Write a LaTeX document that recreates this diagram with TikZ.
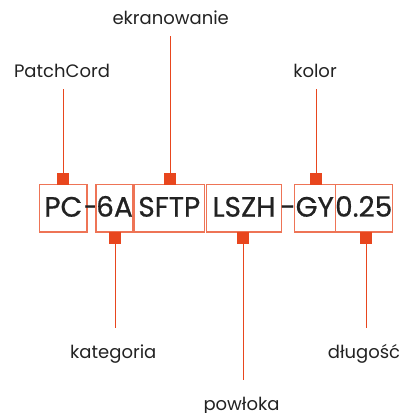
\documentclass[tikz,border=0pt]{standalone}
\usepackage{fontspec}
\setmainfont{Poppins}
\newfontfamily\codefont{Poppins}[FakeBold=0.7]
\definecolor{acc}{HTML}{E8461E}
\definecolor{ink}{HTML}{222222}
\begin{document}
\begin{tikzpicture}[x=1pt,y=-1pt,
  seg/.style={draw=acc!75!white, line width=1.1pt, minimum height=47.3pt, inner sep=0pt,
    text height=20pt, text depth=3.3pt, text=ink, font=\codefont\fontsize{28}{28}\selectfont},
  dashtxt/.style={inner sep=0pt, anchor=base, text=ink, font=\codefont\fontsize{28}{28}\selectfont},
  sq/.style={fill=acc, draw=none, minimum size=11.4pt, inner sep=0pt},
  labtop/.style={anchor=base, text=ink, font=\fontsize{18}{18}\selectfont, text depth=0pt, inner xsep=0pt, inner ysep=11.4pt},
  labbot/.style={anchor=base, text=ink, font=\fontsize{18}{18}\selectfont, text height=13pt, inner xsep=0pt, inner ysep=17.3pt},
  ln/.style={draw=acc, line width=0.9pt}]
\useasboundingbox (0,0) rectangle (401,413);
% code segments
\node[seg, minimum width=47.3pt] (bPC) at (63.3,208.3) {PC};
\node[dashtxt] (d1) at (91.5,216.7) {-};
\node[seg, minimum width=37pt] (b6A) at (114.5,208.3) {6A};
\node[seg, minimum width=70.7pt] (bSF) at (169.3,208.3) {SFTP};
\node[seg, minimum width=75.4pt] (bLS) at (244,208.3) {LSZH};
\node[dashtxt] (d2) at (288,216.7) {-};
\node[seg, minimum width=41pt] (bGY) at (314.8,208.3) {GY};
\node[seg, minimum width=54.7pt] (b025) at (363.7,208.3) {0.25};
% markers
\node[sq] (sPC) at (63,179) {};
\node[sq] (sSF) at (170,179) {};
\node[sq] (sGY) at (316,179) {};
\node[sq] (s6A) at (115,238) {};
\node[sq] (sLS) at (243,238) {};
\node[sq] (s025) at (366,238) {};
% labels
\node[labtop] (lPC) at (62,77.3) {PatchCord};
\node[labtop] (lEK) at (170.7,24) {ekranowanie};
\node[labtop] (lKO) at (315,77.3) {kolor};
\node[labbot] (lKA) at (113.3,358.3) {kategoria};
\node[labbot] (lDL) at (364,358.3) {długość};
\node[labbot] (lPO) at (241.5,410.5) {powłoka};
% connectors
\draw[ln] (sPC.north) -- (sPC.north |- lPC.south);
\draw[ln] (sSF.north) -- (sSF.north |- lEK.south);
\draw[ln] (sGY.north) -- (sGY.north |- lKO.south);
\draw[ln] (s6A.south) -- (s6A.south |- lKA.north);
\draw[ln] (sLS.south) -- (sLS.south |- lPO.north);
\draw[ln] (s025.south) -- (s025.south |- lDL.north);
\end{tikzpicture}
\end{document}
